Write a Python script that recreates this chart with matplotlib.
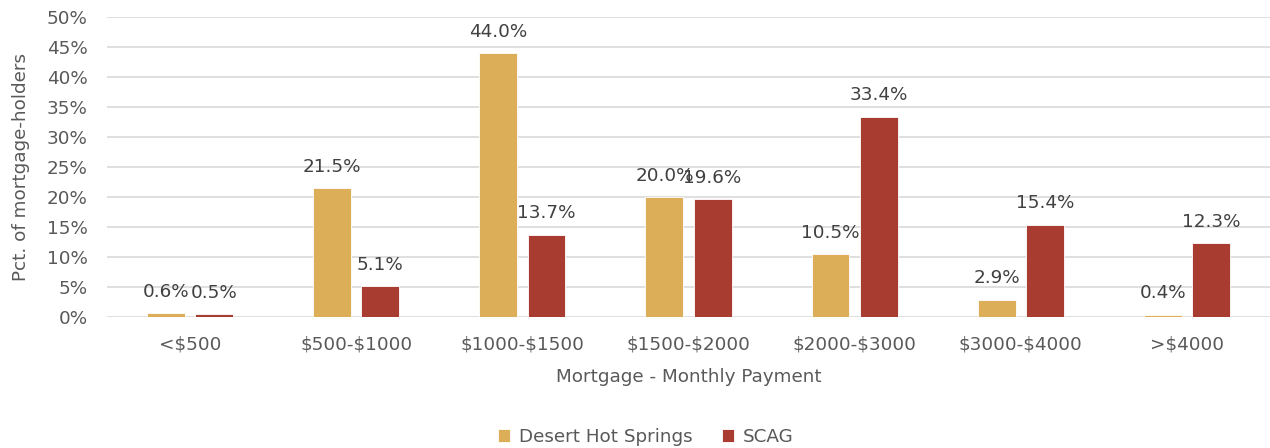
import matplotlib
matplotlib.use("Agg")
import matplotlib.pyplot as plt
import numpy as np
from matplotlib.ticker import FuncFormatter

categories = ["<$500", "$500-$1000", "$1000-$1500", "$1500-$2000", "$2000-$3000", "$3000-$4000", ">$4000"]
desert_hot_springs = [0.6, 21.5, 44.0, 20.0, 10.5, 2.9, 0.4]
scag = [0.5, 5.1, 13.7, 19.6, 33.4, 15.4, 12.3]
series_names = ["Desert Hot Springs", "SCAG"]
colors = ["#DBAE57", "#A93C31"]

plt.rcParams['font.family'] = ['DejaVu Sans']
plt.rcParams['text.parse_math'] = False

fig = plt.figure(figsize=(12.7, 4.48), dpi=100)
ax = fig.add_axes([107/1270, 1 - 317/448, (1270-107)/1270, 300/448])

x = np.arange(len(categories))
w = 0.228
off = 0.145
text_c = "#404040"
tick_c = "#595959"
fs = 13.2

for vals, sign, col, name in [(desert_hot_springs, -1, colors[0], series_names[0]), (scag, 1, colors[1], series_names[1])]:
    bars = ax.bar(x + sign*off, vals, width=w, color=col, edgecolor="white", linewidth=0.6, label=name, zorder=3)
    for b, v in zip(bars, vals):
        ax.annotate(f"{v:.1f}%", (b.get_x() + b.get_width()/2, v), xytext=(0, 9), textcoords="offset points",
                    ha="center", va="bottom", fontsize=fs, color=text_c, zorder=4)

ax.set_xlim(-0.5, len(categories) - 0.5)
ax.set_ylim(0, 50)
ax.set_yticks(np.arange(0, 51, 5))
ax.yaxis.set_major_formatter(FuncFormatter(lambda v, p: f"{v:.0f}%"))
ax.set_xticks(x)
ax.set_xticklabels(categories)
ax.tick_params(axis="both", length=0, labelsize=fs, labelcolor=tick_c)
ax.tick_params(axis="x", pad=13)
ax.tick_params(axis="y", pad=14)
ax.grid(axis="y", color="#D9D9D9", linewidth=1.2, zorder=0)
for s in ax.spines.values():
    s.set_visible(False)

ax.set_xlabel("Mortgage - Monthly Payment", fontsize=fs, color=tick_c, labelpad=11)
ax.set_ylabel("Pct. of mortgage-holders", fontsize=fs, color=tick_c, labelpad=12)

leg = fig.legend(loc="center", bbox_to_anchor=(646/1270, 1 - 437/448), ncol=2, frameon=False,
                 fontsize=fs, handlelength=0.65, handleheight=0.65, columnspacing=1.6, handletextpad=0.5)
for t in leg.get_texts():
    t.set_color(tick_c)

fig.savefig("out.png", dpi=100)
